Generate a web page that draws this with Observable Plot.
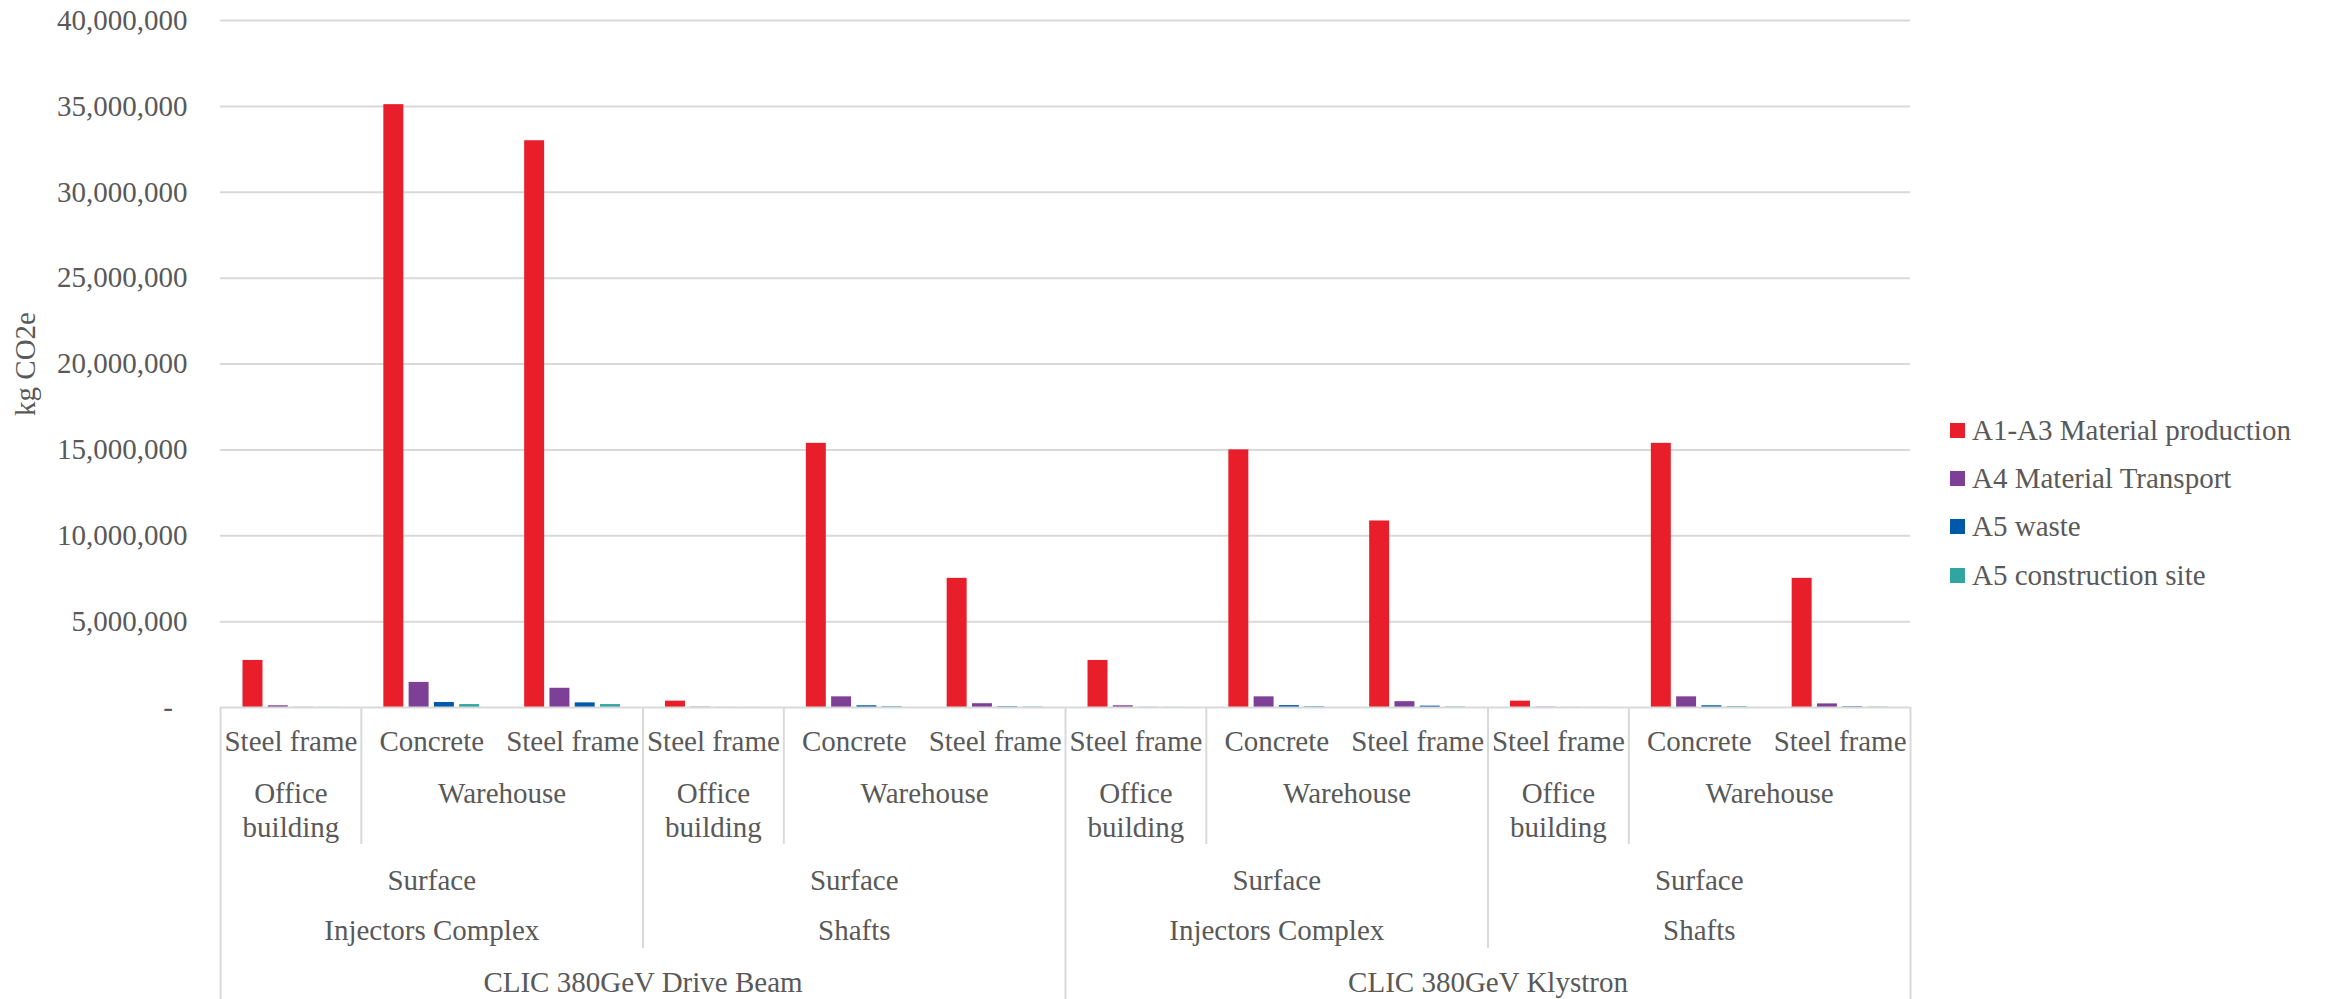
<!DOCTYPE html>
<html>
<head>
<meta charset="utf-8">
<script src="https://cdn.jsdelivr.net/npm/d3@7"></script>
<script src="https://cdn.jsdelivr.net/npm/@observablehq/plot@0.6"></script>
<style>
  html, body { margin: 0; padding: 0; background: #fff; }
  #chart { position: relative; width: 2325px; height: 999px; font-family: "Liberation Serif", "Times New Roman", serif; color: #595959; }
  #legend { position: absolute; left: 1950px; top: 406px; font-size: 29px; }
  #legend .item { display: flex; align-items: center; height: 48.3px; white-space: nowrap; }
  #legend .swatch { width: 15px; height: 15px; margin-right: 7px; flex: none; }
</style>
</head>
<body>
<div id="chart"><div id="legend"></div></div>
<script>
// Category hierarchy, outermost level first (one entry per category)
const scheme = [
  "CLIC 380GeV Drive Beam", "CLIC 380GeV Drive Beam", "CLIC 380GeV Drive Beam",
  "CLIC 380GeV Drive Beam", "CLIC 380GeV Drive Beam", "CLIC 380GeV Drive Beam",
  "CLIC 380GeV Klystron", "CLIC 380GeV Klystron", "CLIC 380GeV Klystron",
  "CLIC 380GeV Klystron", "CLIC 380GeV Klystron", "CLIC 380GeV Klystron"
];
const area = [
  "Injectors Complex", "Injectors Complex", "Injectors Complex",
  "Shafts", "Shafts", "Shafts",
  "Injectors Complex", "Injectors Complex", "Injectors Complex",
  "Shafts", "Shafts", "Shafts"
];
const setting = [
  "Surface", "Surface", "Surface", "Surface", "Surface", "Surface",
  "Surface", "Surface", "Surface", "Surface", "Surface", "Surface"
];
const building = [
  "Office building", "Warehouse", "Warehouse",
  "Office building", "Warehouse", "Warehouse",
  "Office building", "Warehouse", "Warehouse",
  "Office building", "Warehouse", "Warehouse"
];
const structure = [
  "Steel frame", "Concrete", "Steel frame",
  "Steel frame", "Concrete", "Steel frame",
  "Steel frame", "Concrete", "Steel frame",
  "Steel frame", "Concrete", "Steel frame"
];

// Lifecycle stages
const seriesNames = ["A1-A3 Material production", "A4 Material Transport", "A5 waste", "A5 construction site"];
const seriesColors = ["#E81E2A", "#7E3F96", "#0059A8", "#31A5A0"];

// kg CO2e per category, one array per stage
const materialProduction = [2740000, 35100000, 33000000, 370000, 15380000, 7520000, 2740000, 15000000, 10860000, 370000, 15380000, 7520000];
const materialTransport = [100000, 1460000, 1120000, 20000, 620000, 220000, 100000, 620000, 340000, 20000, 620000, 210000];
const waste = [10000, 290000, 270000, 5000, 100000, 40000, 10000, 110000, 80000, 5000, 100000, 40000];
const constructionSite = [8000, 170000, 170000, 3000, 50000, 25000, 8000, 50000, 30000, 3000, 50000, 20000];

const yTicks = [0, 5000000, 10000000, 15000000, 20000000, 25000000, 30000000, 35000000, 40000000];
const yTitle = "kg CO2e";

// ---- derived tables ----
const n = structure.length;
const seriesValues = [materialProduction, materialTransport, waste, constructionSite];
const bars = structure.flatMap((s, i) =>
  seriesNames.map((series, j) => ({index: i, series, value: seriesValues[j][i]}))
);

// placement of the four bars inside one category slot
const inner = d3.scaleBand().domain(seriesNames).range([0, 1]).paddingInner(0.21).paddingOuter(0.89);

const levels = [scheme, area, setting, building, structure];

// consecutive runs of categories sharing every level down to `depth`
function runs(depth) {
  const out = [];
  for (let i = 0; i < n; i++) {
    const key = levels.slice(0, depth + 1).map((l) => l[i]).join("|");
    const last = out[out.length - 1];
    if (last && last.key === key) last.end = i + 1;
    else out.push({key, label: levels[depth][i], start: i, end: i + 1});
  }
  return out;
}

// each slot boundary knows the outermost level that changes there
const boundaries = d3.range(n + 1).map((b) => ({
  at: b,
  depth: b === 0 || b === n ? 0 : levels.findIndex((l) => l[b - 1] !== l[b])
}));

// axis rows below the baseline: text position and bottom edge, by depth
const rowText = [275, 223.5, 173, 72, 34];
const rowEnd = [292, 241, 190, 137, 51];
const grey = "#d9d9d9";

const separatorMarks = [0, 1, 2, 3].map((depth) =>
  Plot.ruleX(boundaries.filter((d) => d.depth === depth), {
    x: "at", y1: 0, y2: 0, insetBottom: -rowEnd[depth], stroke: grey, strokeWidth: 2
  })
);

const labelMarks = [0, 1, 2, 3, 4].map((depth) =>
  Plot.text(runs(depth), {
    x: (d) => (d.start + d.end) / 2,
    text: "label",
    frameAnchor: "bottom",
    textAnchor: "middle",
    lineAnchor: depth === 3 ? "top" : "middle",
    lineWidth: depth === 3 ? 5.5 : undefined,
    lineHeight: depth === 3 ? 1.15 : 1,
    dy: rowText[depth]
  })
);

const chart = Plot.plot({
  width: 2325,
  height: 999,
  marginLeft: 220,
  marginRight: 415,
  marginTop: 20,
  marginBottom: 292,
  style: {
    fontFamily: "'Liberation Serif', 'Times New Roman', serif",
    fontSize: "29px",
    color: "#595959",
    background: "#fff"
  },
  x: {domain: [0, n], axis: null},
  y: {domain: [0, 40000000], axis: null, label: null},
  color: {domain: seriesNames, range: seriesColors},
  marks: [
    Plot.gridY(yTicks.filter((v) => v > 0), {stroke: grey, strokeOpacity: 1, strokeWidth: 2}),
    Plot.axisY(yTicks, {
      tickSize: 0,
      tickPadding: 33,
      label: null,
      tickFormat: (v) => (v === 0 ? "-  " : d3.format(",")(v))
    }),
    Plot.rect(bars, {
      x1: (d) => d.index + inner(d.series),
      x2: (d) => d.index + inner(d.series) + inner.bandwidth(),
      y1: 0,
      y2: "value",
      fill: "series"
    }),
    Plot.ruleY([0], {stroke: grey, strokeWidth: 2}),
    ...separatorMarks,
    ...labelMarks,
    Plot.text([yTitle], {frameAnchor: "left", textAnchor: "middle", lineAnchor: "middle", rotate: -90, dx: -195})
  ]
});

const container = document.getElementById("chart");
container.insertBefore(chart, container.firstChild);

// legend on the right
const legend = d3.select("#legend");
const items = legend.selectAll("div.item").data(seriesNames).join("div").attr("class", "item");
items.append("span").attr("class", "swatch").style("background", (d, i) => seriesColors[i]);
items.append("span").text((d) => d);
</script>
</body>
</html>
